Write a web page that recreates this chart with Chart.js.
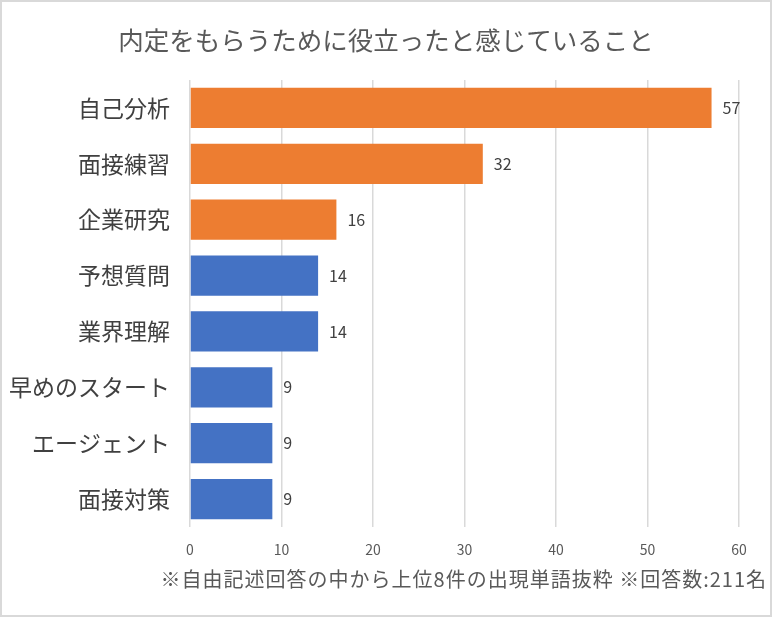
<!DOCTYPE html>
<html lang="ja">
<head>
<meta charset="utf-8">
<script src="https://cdn.jsdelivr.net/npm/chart.js@4.4.1/dist/chart.umd.min.js"></script>
<style>
  html, body { margin: 0; padding: 0; background: #fff; }
  #wrap { position: relative; width: 772px; height: 617px; }
  #frame { position: absolute; left: 0; top: 0; width: 772px; height: 617px; box-sizing: border-box; border: 2px solid #d9d9d9; pointer-events: none; }
  #title { position: absolute; left: 0; width: 772px; top: 20px; text-align: center; font: 25.5px "Noto Sans CJK JP", sans-serif; color: #595959; white-space: nowrap; }
  #note { position: absolute; left: 0; right: 5px; top: 564px; text-align: right; font: 20px "Noto Sans CJK JP", sans-serif; letter-spacing: 1px; color: #595959; white-space: nowrap; }
</style>
</head>
<body>
<div id="wrap">
  <canvas id="chart" width="772" height="617"></canvas>
  <div id="title">内定をもらうために役立ったと感じていること</div>
  <div id="note">※自由記述回答の中から上位8件の出現単語抜粋 ※回答数:211名</div>
  <div id="frame"></div>
</div>
<script>
// Data
const labels = ["自己分析", "面接練習", "企業研究", "予想質問", "業界理解", "早めのスタート", "エージェント", "面接対策"];
const counts = [57, 32, 16, 14, 14, 9, 9, 9];
const barColors = ["#ED7D31", "#ED7D31", "#ED7D31", "#4472C4", "#4472C4", "#4472C4", "#4472C4", "#4472C4"];
const xTicks = [0, 10, 20, 30, 40, 50, 60];

const jpFont = '"Noto Sans CJK JP", sans-serif';

// value labels at bar ends
const valueLabels = {
    id: 'valueLabels',
    afterDatasetsDraw(chart) {
        const ctx = chart.ctx;
        const meta = chart.getDatasetMeta(0);
        ctx.save();
        ctx.font = '16px ' + jpFont;
        ctx.fillStyle = '#404040';
        ctx.textBaseline = 'middle';
        meta.data.forEach((bar, i) => {
            ctx.fillText(counts[i], bar.x + 11, bar.y);
        });
        ctx.restore();
    }
};

new Chart(document.getElementById('chart'), {
    type: 'bar',
    data: {
        labels: labels,
        datasets: [{ data: counts, backgroundColor: barColors, borderWidth: 0, categoryPercentage: 1, barPercentage: 0.72 }]
    },
    options: {
        indexAxis: 'y',
        responsive: false,
        animation: false,
        layout: { padding: { top: 80, right: 33, bottom: 60, left: 0 } },
        plugins: {
            legend: { display: false },
            tooltip: { enabled: false }
        },
        scales: {
            x: {
                min: 0, max: 60,
                afterBuildTicks: scale => { scale.ticks = xTicks.map(v => ({ value: v })); },
                afterFit: scale => { scale.height = 30; },
                grid: { color: '#d9d9d9', lineWidth: 1.5, drawTicks: false },
                border: { display: false },
                ticks: { color: '#595959', font: { family: jpFont, size: 14 }, padding: 14 }
            },
            y: {
                afterFit: scale => { scale.width = 190; },
                grid: { display: false, drawTicks: false },
                border: { display: false },
                ticks: { color: '#404040', font: { family: jpFont, size: 23 }, padding: 20 }
            }
        }
    },
    plugins: [valueLabels]
});
</script>
</body>
</html>
